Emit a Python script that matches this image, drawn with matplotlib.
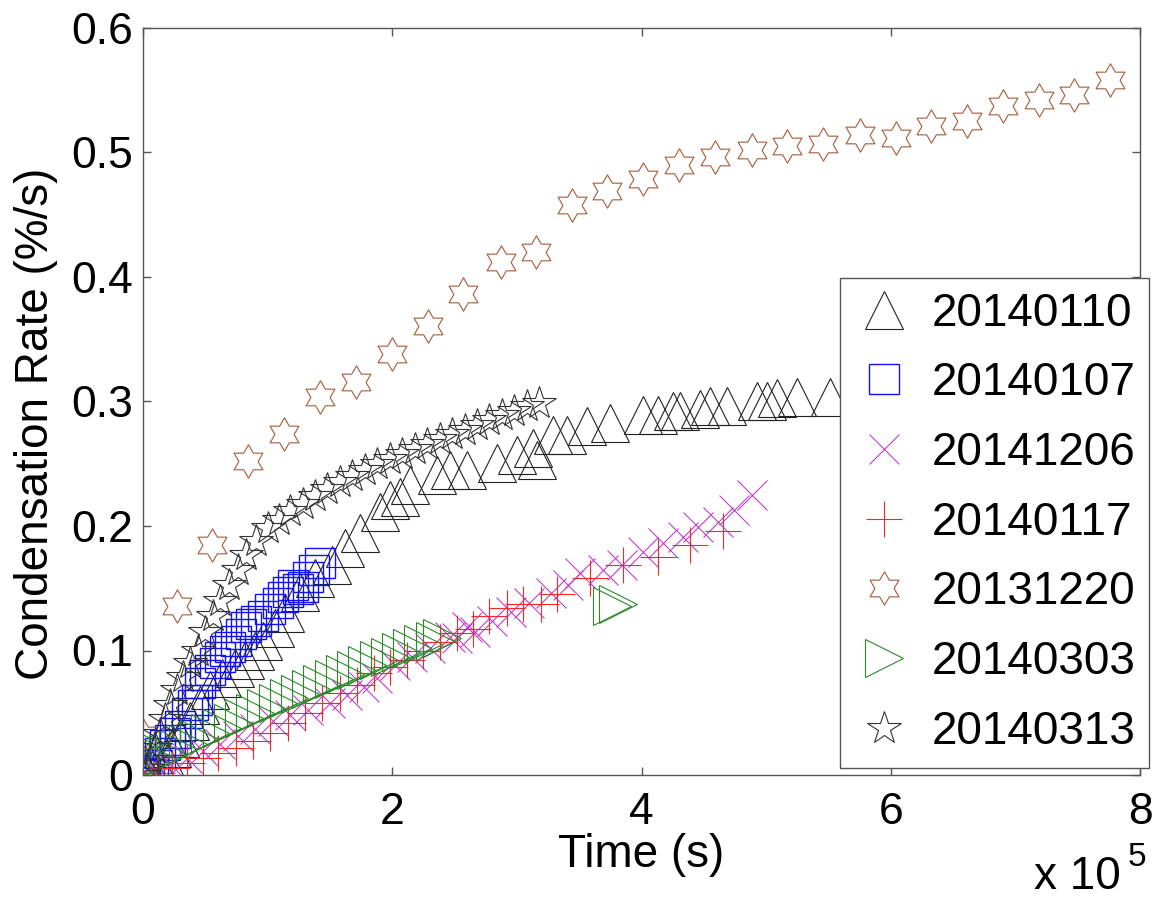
import matplotlib
matplotlib.use("Agg")
import matplotlib.pyplot as plt
from matplotlib.path import Path

plt.rcParams['font.family'] = ['Liberation Sans', 'DejaVu Sans']

# ---------------- data (time in units of 1e5 s, rate in %/s) ----------------
labels = ['20140110', '20140107', '20141206', '20140117', '20131220', '20140303', '20140313']

x_0110 = [0.0, 0.03, 0.07, 0.12, 0.18, 0.23, 0.30, 0.38, 0.46, 0.54, 0.63, 0.74, 0.82, 0.90, 0.96,
          1.06, 1.14, 1.26, 1.38, 1.52, 1.62, 1.74, 1.90, 1.98, 2.06, 2.14, 2.36, 2.46, 2.60, 2.84,
          3.00, 3.13, 3.16, 3.29, 3.40, 3.56, 3.75, 4.01, 4.13, 4.25, 4.31, 4.47, 4.55, 4.69, 4.93,
          5.01, 5.09, 5.25, 5.51, 5.80, 6.20, 6.60, 7.00, 7.40, 7.75]
y_0110 = [0.0, 0.002, 0.004, 0.008, 0.014, 0.022, 0.030, 0.043, 0.056, 0.068, 0.078, 0.086, 0.092,
          0.100, 0.108, 0.118, 0.130, 0.147, 0.158, 0.169, 0.182, 0.194, 0.211, 0.221, 0.223, 0.233,
          0.241, 0.245, 0.245, 0.251, 0.257, 0.263, 0.253, 0.273, 0.273, 0.280, 0.283, 0.289, 0.289,
          0.292, 0.292, 0.294, 0.296, 0.296, 0.300, 0.300, 0.303, 0.304, 0.304, 0.307, 0.310, 0.312,
          0.314, 0.316, 0.318]

x_0107 = [0.0, 0.02, 0.05, 0.08, 0.11, 0.14, 0.18, 0.22, 0.26, 0.30, 0.35, 0.40, 0.43, 0.46, 0.50,
          0.54, 0.58, 0.62, 0.66, 0.70, 0.75, 0.79, 0.83, 0.87, 0.91, 0.96, 1.02, 1.08, 1.12, 1.16,
          1.20, 1.24, 1.28, 1.32, 1.37, 1.42]
y_0107 = [0.0, 0.002, 0.001, 0.004, 0.008, 0.018, 0.024, 0.028, 0.034, 0.039, 0.050, 0.056, 0.060,
          0.074, 0.080, 0.084, 0.090, 0.095, 0.100, 0.103, 0.108, 0.113, 0.119, 0.121, 0.124, 0.128,
          0.133, 0.138, 0.143, 0.147, 0.153, 0.149, 0.151, 0.159, 0.165, 0.170]

x_1206 = [0.0, 0.1, 0.22, 0.35, 0.48, 0.62, 0.76, 0.9, 1.04, 1.18, 1.32, 1.5, 1.64, 1.77, 1.88, 2.02,
          2.16, 2.3, 2.46, 2.52, 2.6, 2.66, 2.8, 2.95, 3.1, 3.27, 3.41, 3.51, 3.69, 3.84, 4.01, 4.17,
          4.33, 4.45, 4.61, 4.74, 4.89]
y_1206 = [0.0, 0.004, 0.009, 0.014, 0.019, 0.025, 0.031, 0.037, 0.043, 0.048, 0.052, 0.058, 0.064,
          0.071, 0.078, 0.088, 0.095, 0.102, 0.111, 0.110, 0.119, 0.115, 0.124, 0.131, 0.138, 0.146,
          0.153, 0.162, 0.165, 0.169, 0.179, 0.186, 0.191, 0.199, 0.203, 0.213, 0.225]

x_0117 = [0.0, 0.11, 0.23, 0.35, 0.48, 0.60, 0.75, 0.88, 1.02, 1.16, 1.30, 1.44, 1.58, 1.72, 1.85,
          1.98, 2.12, 2.25, 2.38, 2.52, 2.65, 2.78, 2.92, 3.05, 3.19, 3.32, 3.59, 3.85, 4.13, 4.39, 4.65]
y_0117 = [0.0, 0.002, 0.006, 0.010, 0.014, 0.018, 0.022, 0.027, 0.034, 0.042, 0.050, 0.058, 0.066,
          0.072, 0.082, 0.087, 0.092, 0.100, 0.107, 0.114, 0.117, 0.128, 0.134, 0.137, 0.137, 0.145,
          0.158, 0.169, 0.175, 0.185, 0.196]

x_1220 = [0.0, 0.27, 0.55, 0.84, 1.13, 1.42, 1.71, 2.0, 2.29, 2.57, 2.87, 3.15, 3.44, 3.72, 4.01,
          4.30, 4.59, 4.89, 5.17, 5.46, 5.75, 6.04, 6.32, 6.61, 6.90, 7.19, 7.47, 7.76]
y_1220 = [0.032, 0.136, 0.185, 0.252, 0.274, 0.304, 0.316, 0.338, 0.361, 0.386, 0.412, 0.420, 0.458,
          0.469, 0.479, 0.490, 0.496, 0.502, 0.505, 0.507, 0.514, 0.512, 0.521, 0.525, 0.537, 0.542,
          0.546, 0.558]

x_0303 = [0.0, 0.03, 0.05, 0.12, 0.2, 0.28, 0.36, 0.45, 0.54, 0.63, 0.72, 0.81, 0.9, 0.99, 1.08,
          1.17, 1.26, 1.35, 1.44, 1.53, 1.62, 1.71, 1.8, 1.89, 1.98, 2.07, 2.16, 2.25, 2.34, 2.4,
          3.76, 3.81]
y_0303 = [0.025, 0.020, 0.010, 0.013, 0.017, 0.021, 0.025, 0.029, 0.034, 0.038, 0.042, 0.046, 0.050,
          0.054, 0.058, 0.062, 0.065, 0.069, 0.073, 0.077, 0.081, 0.084, 0.088, 0.092, 0.095, 0.099,
          0.102, 0.105, 0.108, 0.110, 0.136, 0.137]

x_0313 = [0.0, 0.03, 0.06, 0.1, 0.14, 0.18, 0.22, 0.27, 0.32, 0.38, 0.44, 0.5, 0.56, 0.62, 0.69,
          0.76, 0.83, 0.91, 1.0, 1.09, 1.18, 1.28, 1.38, 1.48, 1.58, 1.68, 1.78, 1.88, 1.98, 2.08,
          2.18, 2.28, 2.38, 2.48, 2.58, 2.68, 2.78, 2.88, 2.98, 3.08, 3.18]
y_0313 = [0.0, 0.005, 0.012, 0.022, 0.033, 0.045, 0.056, 0.068, 0.079, 0.090, 0.100, 0.115, 0.128,
          0.140, 0.153, 0.165, 0.177, 0.188, 0.198, 0.205, 0.212, 0.218, 0.224, 0.230, 0.235, 0.240,
          0.245, 0.250, 0.254, 0.258, 0.262, 0.266, 0.270, 0.274, 0.277, 0.281, 0.285, 0.289, 0.292,
          0.296, 0.299]

x_ticks = [0, 2, 4, 6, 8]
y_ticks = [0, 0.1, 0.2, 0.3, 0.4, 0.5, 0.6]

# ---------------- figure ----------------
fig = plt.figure(figsize=(11.55, 8.99), dpi=100)
ax = fig.add_axes([143 / 1155, 1 - 775 / 899, (1140 - 143) / 1155, (775 - 28) / 899])

hexagram = Path.unit_regular_star(6, 0.577)

series = [
    (x_0110, y_0110, '^', '#222222', 28, 0.8),
    (x_0107, y_0107, 's', '#1010f0', 21, 1.0),
    (x_1206, y_1206, 'x', '#c040c8', 21, 0.8),
    (x_0117, y_0117, '+', '#ee2a2a', 26, 0.8),
    (x_1220, y_1220, hexagram, '#a85a3a', 24, 0.8),
    (x_0303, y_0303, '>', '#2a8a2a', 28, 0.8),
    (x_0313, y_0313, '*', '#333333', 25, 0.8),
]

handles = []
for (xs, ys, mk, col, ms, mew), lab in zip(series, labels):
    h, = ax.plot(xs, ys, linestyle='none', marker=mk, markersize=ms,
                 markerfacecolor='none', markeredgecolor=col, markeredgewidth=mew,
                 label=lab, clip_on=True)
    handles.append(h)

ax.set_xlim(0, 8)
ax.set_ylim(0, 0.6)
ax.set_xticks(x_ticks)
ax.set_xticklabels([str(v) for v in x_ticks])
ax.set_yticks(y_ticks)
ax.set_yticklabels(['0', '0.1', '0.2', '0.3', '0.4', '0.5', '0.6'])

for s in ax.spines.values():
    s.set_color('#555555')
    s.set_linewidth(1.0)
ax.tick_params(direction='in', length=6, width=1.0, color='#555555', labelsize=32,
               top=True, right=True)
ax.tick_params(axis='x', pad=12)
ax.tick_params(axis='y', pad=7)

ax.set_xlabel('Time (s)', fontsize=33)
ax.xaxis.set_label_coords(0.5, -0.078)
ax.xaxis.label.set_va('top')
ax.set_ylabel('Condensation Rate (%/s)', fontsize=33)
ax.yaxis.set_label_coords(-0.085, 0.47)

fig.text(1034 / 1155, 1 - 889 / 899, 'x 10', fontsize=33, ha='left', va='baseline')
fig.text(1128 / 1155, 1 - 866 / 899, '5', fontsize=24, ha='left', va='baseline')

leg = ax.legend(handles=handles, loc='upper left', bbox_to_anchor=(840 / 1155, 1 - 278 / 899),
                bbox_transform=fig.transFigure, fontsize=33, frameon=True, fancybox=False,
                borderpad=0.3, labelspacing=0.56, handlelength=1.3, handletextpad=0.4,
                borderaxespad=0.0)
leg.get_frame().set_edgecolor('#555555')
leg.get_frame().set_linewidth(1.0)
leg.get_frame().set_alpha(1.0)

fig.savefig('out.png', dpi=100)
